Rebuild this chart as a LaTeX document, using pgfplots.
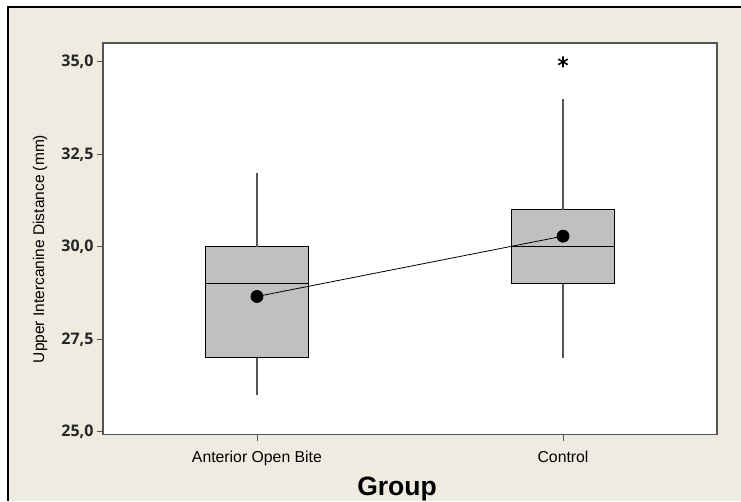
\documentclass[border=0pt]{standalone}
\usepackage{pgfplots}
\pgfplotsset{compat=1.18}
\usepackage{fontspec}
\setmainfont{Liberation Sans}
\newfontfamily\tickfont{Open Sans}
\definecolor{bgbeige}{RGB}{238,235,225}
\definecolor{boxgray}{RGB}{192,192,192}
\definecolor{axgray}{RGB}{85,85,85}
\begin{document}
\begin{tikzpicture}
\useasboundingbox (0pt,0pt) rectangle (741pt,501pt);
\fill[white] (0pt,0pt) rectangle (741pt,501pt);
\fill[bgbeige] (8pt,0pt) rectangle (741pt,494pt);
\draw[black, line width=1.2pt] (8pt,0pt) -- (8pt,494pt) -- (741pt,494pt);
\fill[white] (103pt,66.5pt) rectangle (717pt,458pt);
\begin{axis}[
  at={(103pt,66.5pt)}, anchor=south west,
  scale only axis, width=614pt, height=391.5pt,
  xmin=0.497, xmax=2.503, ymin=24.93, ymax=35.51,
  axis line style={draw=axgray, line width=1.6pt},
  xtick={1,2}, xticklabels={Anterior Open Bite, Control},
  ytick={25,27.5,30,32.5,35},
  tick align=outside, major tick length=6pt,
  tick style={draw=axgray, line width=0.9pt},
  xtick pos=bottom, ytick pos=left,
  yticklabel={\pgfmathprintnumber[fixed, fixed zerofill, precision=1, use comma, assume math mode=true]{\tick}},
  yticklabel style={font=\tickfont\bfseries\fontsize{16}{16}\selectfont, text=black!85},
  xticklabel style={font=\fontsize{15.8}{16}\selectfont, yshift=-7.5pt},
]
% boxes (quartiles), box half-width 0.168
\addplot[draw=black, fill=boxgray, line width=0.9pt]
  coordinates {(0.832,27) (1.168,27) (1.168,30) (0.832,30)} -- cycle;
\addplot[draw=black, fill=boxgray, line width=0.9pt]
  coordinates {(1.832,29) (2.168,29) (2.168,31) (1.832,31)} -- cycle;
% medians
\addplot[black, line width=0.9pt] coordinates {(0.832,29) (1.168,29)};
\addplot[black, line width=0.9pt] coordinates {(1.832,30) (2.168,30)};
% whiskers
\addplot[axgray, line width=1.2pt] coordinates {(1,26) (1,27)};
\addplot[axgray, line width=1.2pt] coordinates {(1,30) (1,32)};
\addplot[axgray, line width=1.2pt] coordinates {(2,27) (2,29)};
\addplot[axgray, line width=1.2pt] coordinates {(2,31) (2,34)};
% outlier
\addplot[only marks, mark=asterisk, mark size=5.5pt, mark options={black, line width=1.6pt}]
  coordinates {(2,35)};
% means
\addplot[black, line width=0.8pt, mark=*, mark size=6pt, mark options={fill=black}]
  coordinates {(1,28.66) (2,30.29)};
\end{axis}
\node[rotate=90, font=\fontsize{15.5}{16}\selectfont] at (40pt,252pt) {Upper Intercanine Distance (mm)};
\node[font=\bfseries\fontsize{26.5}{27}\selectfont] at (397pt,12pt) {Group};
\end{tikzpicture}
\end{document}
